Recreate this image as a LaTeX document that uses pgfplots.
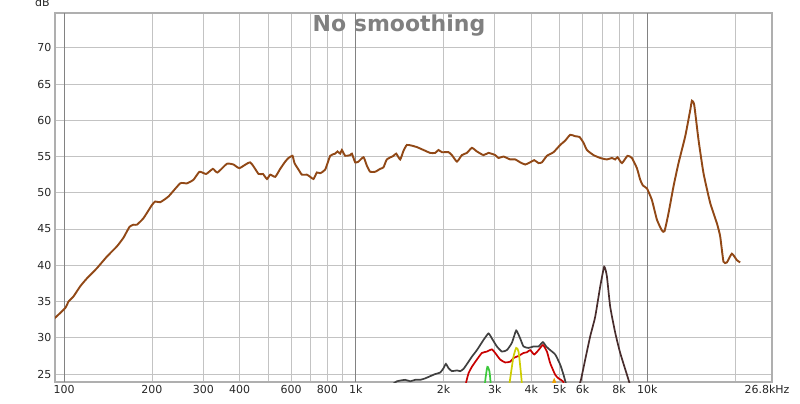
\documentclass[border=0pt]{standalone}
\usepackage{fontspec}
\setmainfont{DejaVu Sans}
\usepackage{pgfplots}
\pgfplotsset{compat=1.18}
\definecolor{mainbrown}{RGB}{145,72,22}
\definecolor{gridgray}{RGB}{195,195,195}
\definecolor{decadegray}{RGB}{130,130,130}
\definecolor{framegray}{RGB}{175,175,175}
\definecolor{titlegray}{RGB}{128,128,128}
\definecolor{dgrey}{RGB}{64,64,64}
\definecolor{cred}{RGB}{200,0,0}
\definecolor{cgreen}{RGB}{60,200,60}
\definecolor{cyellow}{RGB}{205,205,0}
\definecolor{corange}{RGB}{235,160,0}
\definecolor{cdark}{RGB}{72,45,45}
\begin{document}
\begin{tikzpicture}
\begin{axis}[
  scale only axis, width=717bp, height=369bp,
  xmode=log, xmin=93, xmax=26800, ymin=23.9, ymax=74.8,
  xtick={100,200,300,400,600,800,1000,2000,3000,4000,5000,6000,8000,10000},
  xticklabels={100,200,300,400,600,800,1k,2k,3k,4k,5k,6k,8k,10k},
  minor xtick={500,700,900,7000,9000,20000},
  ytick={25,30,...,70},
  grid=both,
  major grid style={color=gridgray, line width=0.8bp},
  minor grid style={color=gridgray, line width=0.8bp},
  major tick length=0pt, minor tick length=0pt,
  axis line style={color=framegray, line width=1.8bp},
  tick label style={font=\fontsize{11bp}{13bp}\selectfont, text=black!85},
  /pgf/number format/assume math mode=true,
  extra x ticks={26800}, extra x tick labels={26.8kHz},
  extra x tick style={grid=none, tick label style={xshift=-5bp}},
]
\draw[decadegray, line width=0.8bp] (axis cs:100,23.9) -- (axis cs:100,74.8);
\draw[decadegray, line width=0.8bp] (axis cs:1000,23.9) -- (axis cs:1000,74.8);
\draw[decadegray, line width=0.8bp] (axis cs:10000,23.9) -- (axis cs:10000,74.8);
% main response
\addplot[mainbrown, line width=1.9bp, smooth, tension=0.3] coordinates {
(92,32.6) (93.9,32.9) (100.8,34.1) (103.5,35.0) (107.6,35.7) (113.5,37.1) (119.7,38.2) (129.5,39.6)
(140.1,41.2) (151.6,42.6) (159.7,43.8) (167.5,45.3) (172.9,45.6) (177.6,45.6) (187.1,46.5)
(199.9,48.3) (205.2,48.8) (213.5,48.7) (228.0,49.5) (250.0,51.3) (263.6,51.3) (277.7,51.8)
(291.2,52.9) (307.0,52.6) (323.6,53.3) (335.7,52.8) (361.5,54.0) (380.9,53.9) (399.4,53.4)
(434.6,54.2) (464.1,52.6) (480.5,52.6) (496.1,51.9) (509.2,52.5) (529.7,52.2) (550.8,53.3)
(573.1,54.3) (588.3,54.8) (607.1,55.1) (616.6,54.1) (636.5,53.2) (653.8,52.5) (680.1,52.5)
(698.1,52.2) (716.5,51.9) (736.1,52.8) (755.5,52.7) (786.0,53.2) (817.6,55.1) (850.5,55.4)
(866.1,55.7) (884.7,55.4) (896.8,55.9) (920.4,55.1) (957.4,55.2) (970.4,55.4) (996.1,54.2)
(1022,54.3) (1064,54.9) (1093,53.7) (1121,52.9) (1167,52.9) (1213,53.3) (1245,53.5)
(1279,54.6) (1348,55.1) (1377,55.4) (1421,54.6) (1459,55.8) (1498,56.6) (1559,56.5)
(1622,56.3) (1709,55.9) (1801,55.5) (1874,55.5) (1923,55.9) (1976,55.6) (2082,55.6)
(2138,55.2) (2225,54.3) (2314,55.2) (2407,55.5) (2504,56.2) (2605,55.7) (2744,55.2)
(2855,55.5) (3010,55.2) (3090,54.8) (3214,55.0) (3388,54.6) (3526,54.6) (3667,54.2)
(3815,53.9) (3968,54.2) (4096,54.5) (4238,54.1) (4354,54.2) (4529,55.1) (4771,55.6)
(5030,56.6) (5233,57.2) (5443,58.0) (5662,57.8) (5858,57.7) (6047,56.9) (6211,55.9)
(6544,55.2) (6901,54.8) (7272,54.6) (7568,54.8) (7768,54.6) (7911,54.9) (8190,54.1)
(8558,55.1) (8861,54.8) (9218,53.4) (9463,51.8) (9667,51.0) (9977,50.6) (10378,49.0)
(10796,46.3) (11231,44.8) (11465,44.7) (11835,47.2) (12311,50.9) (12807,54.1) (13504,57.8)
(14047,61.4) (14237,62.7) (14499,62.1) (14997,57.3) (15600,52.7) (16447,48.6) (17340,45.8)
(17796,44.0) (18266,40.5) (18766,40.4) (19520,41.6) (20314,40.7) (20845,40.4)
};
% dark grey
\addplot[dgrey, line width=1.7bp, smooth, tension=0.3] coordinates {
(1330,23.5) (1385,24.0) (1478,24.2) (1538,24.0) (1600,24.2) (1665,24.2) (1731,24.4) (1801,24.7)
(1874,25.0) (1949,25.2) (2001,25.8) (2039,26.4) (2082,25.8) (2138,25.4) (2225,25.5)
(2283,25.4) (2343,25.7) (2438,26.7) (2504,27.4) (2605,28.3) (2744,29.7) (2855,30.6)
(2933,29.9) (3051,28.8) (3173,28.1) (3301,28.3) (3434,29.3) (3553,31.0) (3667,29.9)
(3765,28.8) (3915,28.6) (4073,28.8) (4238,28.8) (4387,29.4) (4503,28.8) (4647,28.3)
(4835,27.7) (5029,26.3) (5163,24.9) (5261,23.7) (5350,22.8)
};
% red
\addplot[cred, line width=1.7bp, smooth, tension=0.3] coordinates {
(2370,23.0) (2394,23.9) (2438,25.1) (2504,26.0) (2605,27.0) (2709,27.9) (2819,28.1) (2933,28.4)
(3010,27.9) (3131,27.0) (3258,26.6) (3388,26.7) (3478,27.2) (3619,27.5) (3765,27.9)
(3867,28.0) (3968,28.3) (4096,27.7) (4238,28.3) (4387,29.0) (4529,28.1) (4647,26.5)
(4835,24.9) (4962,24.4) (5138,24.0) (5250,23.0)
};
% green
\addplot[cgreen, line width=1.7bp, smooth, tension=0.4] coordinates {
(2765,23.0) (2790,24.5) (2830,26.0) (2875,25.4) (2900,24.0) (2915,23.0)
};
% yellow
\addplot[cyellow, line width=1.7bp, smooth, tension=0.4] coordinates {
(3350,23.0) (3420,25.5) (3478,27.4) (3553,28.6) (3619,28.1) (3680,25.5) (3730,23.0)
};
% orange
\addplot[corange, line width=1.7bp, smooth, tension=0.4] coordinates {
(4700,23.0) (4797,24.2) (4890,23.0)
};
% dark peak
\addplot[cdark, line width=1.7bp, smooth, tension=0.3] coordinates {
(5800,23.0) (5925,24.2) (6128,27.0) (6375,30.2) (6631,32.9) (6901,37.1) (7121,39.8)
(7272,38.5) (7464,34.3) (7768,30.7) (8080,27.9) (8628,24.2) (8800,23.0)
};
\end{axis}
\node[anchor=base, text=titlegray, font=\fontsize{22bp}{26bp}\selectfont\bfseries]
  at ([shift={(344bp,-18.7bp)}]current axis.north west) {No smoothing};
\node[anchor=base, font=\fontsize{11bp}{13bp}\selectfont, text=black!85]
  at ([shift={(-12.5bp,6bp)}]current axis.north west) {dB};
\pgfresetboundingbox
\path ([shift={(-55bp,-21bp)}]current axis.south west) rectangle ([shift={(28bp,13bp)}]current axis.north east);
\end{tikzpicture}
\end{document}
